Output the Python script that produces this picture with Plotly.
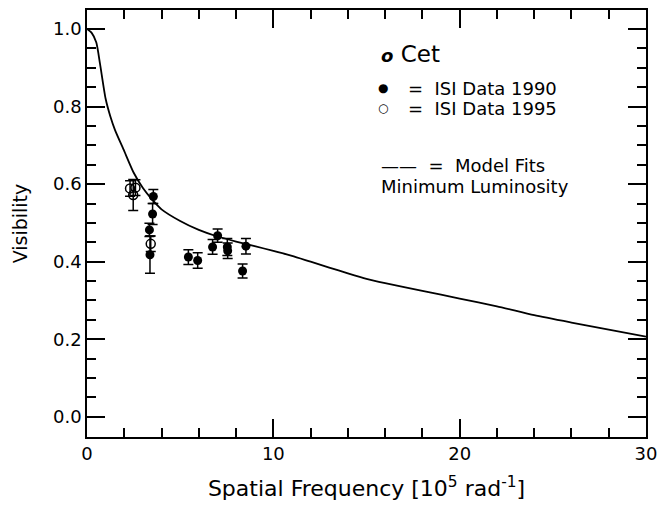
import plotly.graph_objects as go

# Model fit curve (Minimum Luminosity)
model_freq = [0, 0.25, 0.5, 0.7, 1.0, 1.25, 1.5, 2.0, 2.5, 3.0, 3.5, 4.0, 5.0, 6.0, 7.0,
              8.0, 9.0, 10.0, 11.0, 12.0, 13.0, 14.0, 15.0, 16.0, 18.0, 20.0, 22.0,
              24.0, 26.0, 28.0, 30.0]
model_vis = [1.0, 0.99, 0.965, 0.91, 0.82, 0.775, 0.74, 0.685, 0.63, 0.59, 0.56, 0.535,
             0.505, 0.482, 0.465, 0.452, 0.44, 0.428, 0.415, 0.40, 0.385, 0.37, 0.356,
             0.345, 0.325, 0.305, 0.285, 0.262, 0.243, 0.225, 0.207]

# ISI Data 1990 (filled)
isi90_freq = [3.56, 3.52, 3.35, 3.38, 5.44, 5.94, 6.74, 7.01, 7.53, 7.55, 8.53, 8.35]
isi90_vis = [0.568, 0.523, 0.482, 0.418, 0.412, 0.403, 0.438, 0.467, 0.438, 0.428, 0.440, 0.376]
isi90_err = [0.018, 0.027, 0.017, 0.048, 0.019, 0.02, 0.019, 0.017, 0.022, 0.02, 0.02, 0.018]

# ISI Data 1995 (open)
isi95_freq = [2.31, 2.60, 2.48, 3.42]
isi95_vis = [0.589, 0.591, 0.572, 0.446]
isi95_err = [0.02, 0.02, 0.04, 0.02]

x_ticks = [0, 10, 20, 30]
y_ticks = [0.0, 0.2, 0.4, 0.6, 0.8, 1.0]

FONT = "DejaVu Sans"

fig = go.Figure()
fig.add_trace(go.Scatter(x=model_freq, y=model_vis, mode="lines",
                         line=dict(color="black", width=1.8, shape="spline", smoothing=0.6),
                         showlegend=False))
fig.add_trace(go.Scatter(x=isi95_freq, y=isi95_vis, mode="markers",
                         marker=dict(symbol="circle-open", size=9, color="black",
                                     line=dict(width=1.5, color="black")),
                         error_y=dict(type="data", array=isi95_err, color="black",
                                      thickness=1.5, width=5),
                         showlegend=False))
fig.add_trace(go.Scatter(x=isi90_freq, y=isi90_vis, mode="markers",
                         marker=dict(symbol="circle", size=9, color="black"),
                         error_y=dict(type="data", array=isi90_err, color="black",
                                      thickness=1.5, width=5),
                         showlegend=False))

axis_common = dict(showgrid=False, zeroline=False, showline=True, linecolor="black",
                   linewidth=1.5, mirror="ticks", ticks="inside", ticklen=18,
                   tickwidth=1.5, tickcolor="black", automargin=False,
                   ticklabeloverflow="allow",
                   tickfont=dict(family=FONT, size=18, color="black"))

fig.update_xaxes(range=[0, 30], tickvals=x_ticks, ticktext=[str(v) for v in x_ticks],
                 minor=dict(dtick=2, ticks="inside", ticklen=9, tickwidth=1.5, tickcolor="black"),
                 title=dict(text="Spatial Frequency [10<sup>5</sup> rad<sup>-1</sup>]",
                            font=dict(family=FONT, size=22, color="black"), standoff=17),
                 **axis_common)
fig.update_yaxes(range=[-0.052, 1.049], tickvals=y_ticks, ticktext=[f"{v:.1f}" for v in y_ticks],
                 minor=dict(dtick=0.05, tick0=0, ticks="inside", ticklen=9, tickwidth=1.5, tickcolor="black"),
                 title=dict(text="Visibility", font=dict(family=FONT, size=19, color="black"),
                            standoff=20),
                 **axis_common)

ann_font = dict(family=FONT, size=18, color="black")
annotations = [
    dict(x=0.523, y=0.897, text="<b><i><span style='font-size:18px'>o</span></i></b> Cet",
         font=dict(family=FONT, size=23, color="black"), xanchor="left"),
    dict(x=0.5295, y=0.817, text="●", font=dict(family=FONT, size=12, color="black"), xanchor="center"),
    dict(x=0.57, y=0.817, text="=  ISI Data 1990", font=ann_font, xanchor="left"),
    dict(x=0.5295, y=0.770, text="○", font=dict(family=FONT, size=12, color="black"), xanchor="center"),
    dict(x=0.57, y=0.770, text="=  ISI Data 1995", font=ann_font, xanchor="left"),
    dict(x=0.522, y=0.637, text="——  =  Model Fits", font=ann_font, xanchor="left"),
    dict(x=0.522, y=0.586, text="Minimum Luminosity", font=ann_font, xanchor="left"),
]
for a in annotations:
    a.update(xref="paper", yref="paper", yanchor="middle", showarrow=False)
fig.update_layout(annotations=annotations)

# plot box at x 87..646, y 10..437 in the 658x506 window (body margin removed)
fig.update_layout(width=658, height=506, plot_bgcolor="white", paper_bgcolor="white",
                  margin=dict(l=87, r=12, t=10, b=69), showlegend=False)

fig.write_html("out.html", config={"displayModeBar": False},
               post_script="document.body.style.margin='0';document.body.style.overflow='hidden';")
